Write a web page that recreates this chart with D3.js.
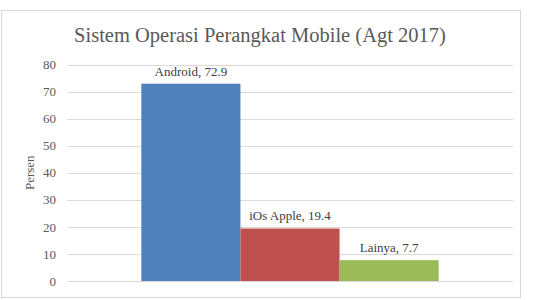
<!DOCTYPE html>
<html>
<head>
<meta charset="utf-8">
<script src="https://cdn.jsdelivr.net/npm/d3@7"></script>
<style>
  body { margin: 0; background: #fff; }
  text { font-family: "Liberation Serif", "Times New Roman", serif; }
</style>
</head>
<body>
<svg width="533" height="300"></svg>
<script>
// chart data
let title = "Sistem Operasi Perangkat Mobile (Agt 2017)";
let categories = ["Android", "iOs Apple", "Lainya"];
let values = [72.9, 19.4, 7.7];
let colors = ["#4f81bd", "#c0504d", "#9bbb59"];
let yTicks = [0, 10, 20, 30, 40, 50, 60, 70, 80];
let yLabel = "Persen";

let svg = d3.select("svg");

// outer chart border
svg.append("rect")
  .attr("x", 1.5).attr("y", 10.5)
  .attr("width", 519).attr("height", 287)
  .attr("fill", "#fff")
  .attr("stroke", "#d9d9d9");

svg.append("text")
  .attr("x", 260).attr("y", 42)
  .attr("text-anchor", "middle")
  .attr("font-size", 20.5)
  .attr("fill", "#595959")
  .text(title);

let plotLeft = 67, plotRight = 513, plotTop = 64.5, plotBottom = 281;

let yScale = d3.scaleLinear().domain([0, 80]).range([plotBottom, plotTop]);

// one category group holding the three series
let outer = d3.scaleBand().domain(["all"]).range([plotLeft, plotRight]).paddingOuter(0.25);
let inner = d3.scaleBand().domain(categories).range([outer("all"), outer("all") + outer.bandwidth()]);

// gridlines
svg.append("g")
  .selectAll("line")
  .data(yTicks)
  .enter()
  .append("line")
  .attr("x1", plotLeft).attr("x2", plotRight)
  .attr("y1", d => Math.round(yScale(d)) + 0.5)
  .attr("y2", d => Math.round(yScale(d)) + 0.5)
  .attr("stroke", "#d9d9d9");

// y axis labels
let yAxis = svg.append("g")
  .attr("transform", "translate(" + (plotLeft - 4) + ",0)")
  .call(d3.axisLeft(yScale).tickValues(yTicks).tickSize(0).tickPadding(7));
yAxis.select(".domain").remove();
yAxis.selectAll("text")
  .attr("font-family", "Liberation Serif, Times New Roman, serif")
  .attr("font-size", 13)
  .attr("fill", "#595959");

svg.append("text")
  .attr("transform", "translate(34," + ((plotTop + plotBottom) / 2) + ") rotate(-90)")
  .attr("text-anchor", "middle")
  .attr("font-size", 13)
  .attr("fill", "#595959")
  .text(yLabel);

// bars
svg.selectAll(".bar")
  .data(values)
  .enter()
  .append("rect")
  .attr("class", "bar")
  .attr("x", (d, i) => inner(categories[i]))
  .attr("y", d => yScale(d))
  .attr("width", inner.bandwidth())
  .attr("height", d => plotBottom - yScale(d))
  .attr("fill", (d, i) => colors[i]);

// data labels
svg.selectAll(".lbl")
  .data(values)
  .enter()
  .append("text")
  .attr("class", "lbl")
  .attr("x", (d, i) => inner(categories[i]) + inner.bandwidth() / 2)
  .attr("y", d => yScale(d) - 8)
  .attr("text-anchor", "middle")
  .attr("font-size", 13)
  .attr("fill", "#404040")
  .text((d, i) => categories[i] + ", " + d);
</script>
</body>
</html>
